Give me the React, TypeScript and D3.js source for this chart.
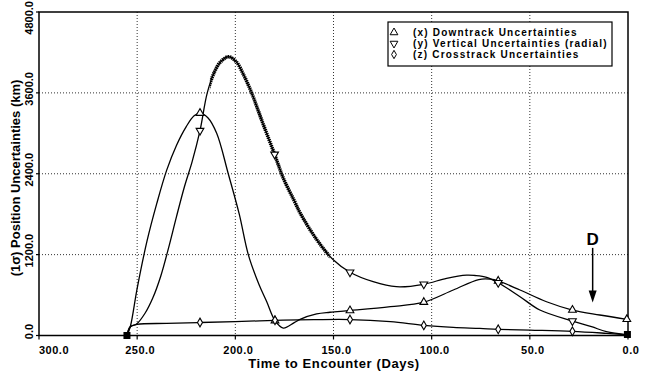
import { useEffect, useRef } from 'react'
import * as d3 from 'd3'

// time to encounter (days) vs 1-sigma position uncertainty (km)
const downtrack: [number, number][] = [
  [255.2, 0], [253.5, 130], [250, 700], [245, 1400], [240, 1960], [235, 2450],
  [230, 2820], [225, 3100], [221, 3260], [218, 3300], [214, 3230], [209.5, 3000],
  [203.6, 2400], [198, 1800], [193.4, 1200], [188, 760], [184, 500], [179.8, 220],
  [175.6, 110], [170, 190], [167, 240], [158.6, 320], [151.8, 345], [141.6, 370],
  [121, 427], [104, 495], [89, 675], [76, 830], [70, 835], [66.1, 810], [55, 675],
  [41.5, 501], [28.3, 378], [14.4, 304], [0.6, 240]
]
const vertical: [number, number][] = [
  [255.2, 0], [253.5, 130], [250.3, 170], [246, 330], [242, 560], [238, 880],
  [234, 1300], [230, 1760], [226, 2200], [222, 2580], [218, 3040], [214.3, 3600],
  [210.5, 3920], [207.5, 4060], [203.5, 4136], [199.5, 4060], [195.5, 3850],
  [191.7, 3600], [186, 3150], [180, 2688], [175.5, 2330], [170, 2000], [166.9, 1813],
  [158.4, 1417], [150, 1120], [141.6, 938], [129.8, 798], [118, 724], [104, 760],
  [92.4, 849], [82.2, 895], [78, 890], [72, 863], [66.1, 783], [55, 576], [44.9, 378],
  [28.3, 215], [18.6, 131], [11, 56], [0.3, 10]
]
const crosstrack: [number, number][] = [
  [255.2, 0], [253.5, 130], [250, 165], [235, 180], [218, 193], [200, 205],
  [179.8, 225], [160, 235], [141.6, 237], [121, 205], [104, 150], [89, 120],
  [75.5, 105], [66.1, 92], [50, 80], [28.3, 62], [11, 32], [0.3, 10]
]

const downtrackMarks: [number, number][] = [
  [218, 3300], [179.8, 220], [141.6, 370], [104, 495], [66.1, 810], [28.3, 378], [0.6, 240]
]
const verticalMarks: [number, number][] = [
  [218, 3040], [180, 2688], [141.6, 938], [104, 760], [66.1, 783], [28.3, 215]
]
const crosstrackMarks: [number, number][] = [
  [218, 193], [179.8, 225], [141.6, 237], [104, 150], [66.1, 92], [28.3, 62]
]
const endPoints: [number, number][] = [[255.2, 0], [0.3, 15]]

const xTicks = [300, 250, 200, 150, 100, 50, 0]
const yTicks = [0, 1200, 2400, 3600, 4800]
const legendLabels = [
  '(x) Downtrack Uncertainties',
  '(y) Vertical Uncertainties (radial)',
  '(z) Crosstrack Uncertainties'
]
const dDay = 18
const dArrow = [1300, 490]

const FONT = '"Liberation Sans", Arial, sans-serif'

export default function App() {
  const svgRef = useRef<SVGSVGElement>(null)

  useEffect(() => {
    if (!svgRef.current) return
    const svg = d3.select(svgRef.current)
    svg.selectAll('*').remove()

    const x = d3.scaleLinear().domain([300, 0]).range([39, 628])
    const y = d3.scaleLinear().domain([0, 4800]).range([335.5, 12])

    // dotted grid
    const grid = svg.append('g')
      .attr('stroke', '#333')
      .attr('stroke-width', 1)
      .attr('stroke-dasharray', '1,2')
    grid.selectAll('line.v')
      .data(xTicks.slice(1, -1))
      .enter()
      .append('line')
      .attr('x1', d => x(d))
      .attr('x2', d => x(d))
      .attr('y1', y(4800))
      .attr('y2', y(0))
    grid.selectAll('line.h')
      .data(yTicks.slice(1, -1))
      .enter()
      .append('line')
      .attr('x1', x(300))
      .attr('x2', x(0))
      .attr('y1', d => y(d))
      .attr('y2', d => y(d))

    // frame
    svg.append('rect')
      .attr('x', x(300))
      .attr('y', y(4800))
      .attr('width', x(0) - x(300))
      .attr('height', y(0) - y(4800))
      .attr('fill', 'none')
      .attr('stroke', '#000')
      .attr('stroke-width', 1.5)

    // ticks
    svg.append('g')
      .selectAll('line')
      .data(xTicks)
      .enter()
      .append('line')
      .attr('x1', d => x(d))
      .attr('x2', d => x(d))
      .attr('y1', y(0))
      .attr('y2', y(0) + 4)
      .attr('stroke', '#000')
      .attr('stroke-width', 1.2)
    svg.append('g')
      .selectAll('line')
      .data(yTicks)
      .enter()
      .append('line')
      .attr('x1', x(300) - 3)
      .attr('x2', x(300))
      .attr('y1', d => y(d))
      .attr('y2', d => y(d))
      .attr('stroke', '#000')
      .attr('stroke-width', 1.2)

    // tick labels
    svg.append('g')
      .selectAll('text')
      .data(xTicks)
      .enter()
      .append('text')
      .attr('x', (d, i) => (i === 0 ? x(d) : x(d) + 3))
      .attr('y', 354)
      .attr('text-anchor', (d, i) => (i === 0 ? 'start' : 'middle'))
      .attr('font-family', FONT)
      .attr('font-weight', 'bold')
      .attr('font-size', 11)
      .attr('letter-spacing', 0.5)
      .text(d => d.toFixed(1))

    // top label is pushed fully inside the page
    svg.append('g')
      .selectAll('text')
      .data(yTicks)
      .enter()
      .append('text')
      .attr('transform', (d, i) =>
        i === yTicks.length - 1 ? 'translate(33,1) rotate(-90)' : `translate(33,${y(d) - 4}) rotate(-90)`)
      .attr('text-anchor', (d, i) => (i === yTicks.length - 1 ? 'end' : 'middle'))
      .attr('font-family', FONT)
      .attr('font-weight', 'bold')
      .attr('font-size', 11)
      .text(d => d.toFixed(1))

    // axis titles
    svg.append('text')
      .attr('x', 334)
      .attr('y', 368)
      .attr('text-anchor', 'middle')
      .attr('font-family', FONT)
      .attr('font-weight', 'bold')
      .attr('font-size', 13)
      .attr('letter-spacing', 0.6)
      .text('Time to Encounter (Days)')

    svg.append('text')
      .attr('transform', 'translate(20,178) rotate(-90)')
      .attr('text-anchor', 'middle')
      .attr('font-family', FONT)
      .attr('font-weight', 'bold')
      .attr('font-size', 13)
      .text('(1σ) Position Uncertainties (km)')

    // curves
    const line = d3.line<[number, number]>()
      .x(d => x(d[0]))
      .y(d => y(d[1]))
      .curve(d3.curveCatmullRom.alpha(0.5))

    const curves = svg.append('g')
      .attr('fill', 'none')
      .attr('stroke', '#000')
      .attr('stroke-width', 1.3)
    ;[downtrack, vertical, crosstrack].forEach(s => {
      curves.append('path').attr('d', line(s))
    })

    // densely marked stretch of the vertical curve
    svg.append('defs')
      .append('clipPath')
      .attr('id', 'thick')
      .append('rect')
      .attr('x', x(213))
      .attr('y', 0)
      .attr('width', x(152) - x(213))
      .attr('height', 373)
    svg.append('path')
      .attr('d', line(vertical))
      .attr('clip-path', 'url(#thick)')
      .attr('fill', 'none')
      .attr('stroke', '#000')
      .attr('stroke-width', 3.6)
      .attr('stroke-dasharray', '1.4,0.7')

    // markers
    const up = d3.symbol(d3.symbolTriangle, 26)
    const diamond = d3.symbol(d3.symbolDiamond, 22)
    const marks = svg.append('g')
      .attr('fill', '#fff')
      .attr('stroke', '#000')
      .attr('stroke-width', 1.1)
    marks.selectAll('path.up')
      .data(downtrackMarks)
      .enter()
      .append('path')
      .attr('transform', d => `translate(${x(d[0])},${y(d[1])})`)
      .attr('d', up())
    marks.selectAll('path.down')
      .data(verticalMarks)
      .enter()
      .append('path')
      .attr('transform', d => `translate(${x(d[0])},${y(d[1])}) rotate(180)`)
      .attr('d', up())
    marks.selectAll('path.dia')
      .data(crosstrackMarks)
      .enter()
      .append('path')
      .attr('transform', d => `translate(${x(d[0])},${y(d[1])})`)
      .attr('d', diamond())
    svg.append('g')
      .selectAll('rect')
      .data(endPoints)
      .enter()
      .append('rect')
      .attr('x', d => x(d[0]) - 3.5)
      .attr('y', d => y(d[1]) - 3.5)
      .attr('width', 7)
      .attr('height', 7)
      .attr('fill', '#000')

    // legend
    const lg = svg.append('g')
    lg.append('rect')
      .attr('x', 388)
      .attr('y', 22)
      .attr('width', 224)
      .attr('height', 44)
      .attr('fill', '#fff')
      .attr('stroke', '#000')
      .attr('stroke-width', 1.2)
    const legendSym = [up(), up(), d3.symbol(d3.symbolDiamond, 20)()]
    legendLabels.forEach((label, i) => {
      const ry = 32.5 + i * 11
      lg.append('path')
        .attr('transform', `translate(394,${ry})${i === 1 ? ' rotate(180)' : ''}`)
        .attr('d', legendSym[i])
        .attr('fill', '#fff')
        .attr('stroke', '#000')
        .attr('stroke-width', 1)
      lg.append('text')
        .attr('x', 413)
        .attr('y', ry + 3.5)
        .attr('font-family', FONT)
        .attr('font-weight', 'bold')
        .attr('font-size', 10)
        .attr('letter-spacing', 1.2)
        .text(label)
    })

    // encounter marker D
    svg.append('text')
      .attr('x', x(dDay))
      .attr('y', 245)
      .attr('text-anchor', 'middle')
      .attr('font-family', FONT)
      .attr('font-weight', 'bold')
      .attr('font-size', 17)
      .text('D')
    svg.append('line')
      .attr('x1', x(dDay))
      .attr('x2', x(dDay))
      .attr('y1', y(dArrow[0]))
      .attr('y2', y(dArrow[1]) - 6)
      .attr('stroke', '#000')
      .attr('stroke-width', 1.5)
    const tip = y(dArrow[1])
    svg.append('path')
      .attr('d', `M${x(dDay) - 4},${tip - 12}L${x(dDay) + 4},${tip - 12}L${x(dDay)},${tip}Z`)
      .attr('fill', '#000')
  }, [])

  return (
    <svg
      ref={svgRef}
      width={667}
      height={373}
      style={{ position: 'absolute', left: 0, top: 0, background: '#fff' }}
    />
  )
}
